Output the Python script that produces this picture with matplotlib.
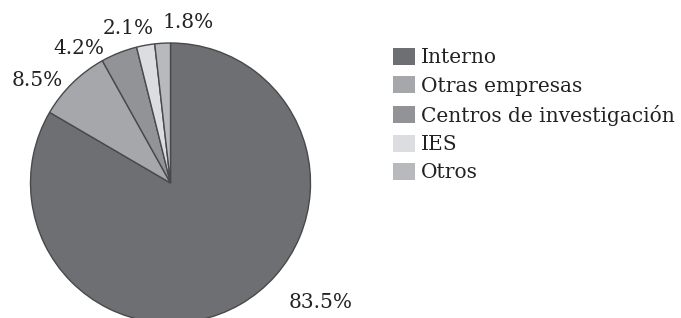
import matplotlib
matplotlib.use("Agg")
from matplotlib import pyplot as plt

# data
categorias = ["Interno", "Otras empresas", "Centros de investigación", "IES", "Otros"]
porcentajes = [83.5, 8.5, 4.2, 2.1, 1.8]
colores = ["#6e6f72", "#a6a7aa", "#929396", "#dcdde0", "#b8b9bc"]
etiquetas = ["83.5%", "8.5%", "4.2%", "2.1%", "1.8%"]

# label positions in pixel units (x from left, y from bottom)
pos_etiquetas = [(321, 16), (37, 238), (79, 270), (128, 290), (188, 295)]

plt.rcParams['font.family'] = ['DejaVu Serif']

fig = plt.figure(figsize=(6.81, 3.18), dpi=100)
ax = fig.add_axes([0, 0, 1, 1])
ax.set_xlim(0, 681)
ax.set_ylim(0, 318)
ax.set_aspect('equal')
ax.axis('off')

wedges, _ = ax.pie(porcentajes, colors=colores, startangle=90, counterclock=False,
                   center=(170.5, 135), radius=140,
                   wedgeprops=dict(edgecolor="#48494b", linewidth=1.0))
ax.set_xlim(0, 681)
ax.set_ylim(0, 318)

for txt, (x, y) in zip(etiquetas, pos_etiquetas):
    ax.text(x, y, txt, ha='center', va='center', fontsize=14.5, color="#222222")

leg = ax.legend(wedges, categorias, loc='upper left', bbox_to_anchor=(393/681, 1 - 48/318),
                frameon=False, fontsize=14.5, handlelength=1.1, handleheight=0.9,
                labelspacing=0.45, handletextpad=0.3, borderaxespad=0, borderpad=0,
                labelcolor="#222222")
for h in leg.legend_handles:
    h.set_edgecolor('none')

fig.savefig("out.png", dpi=100)
